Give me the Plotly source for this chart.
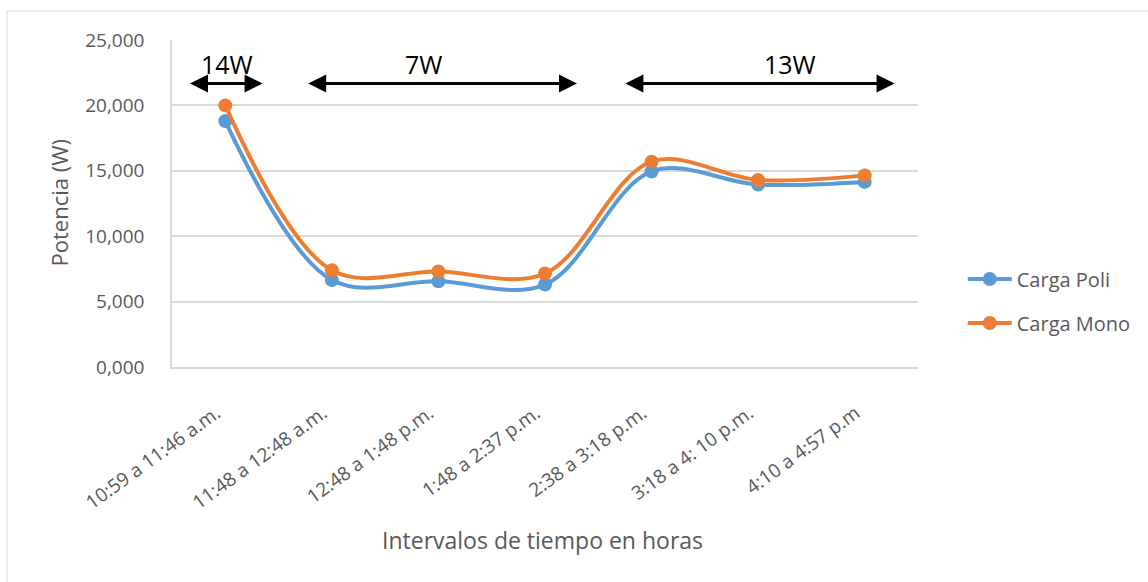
import plotly.graph_objects as go

# Time intervals (x categories)
intervalos = [
    "10:59 a 11:46 a.m.",
    "11:48 a 12:48 a.m.",
    "12:48 a 1:48 p.m.",
    "1:48 a 2:37 p.m.",
    "2:38 a 3:18 p.m.",
    "3:18 a 4: 10 p.m.",
    "4:10 a 4:57 p.m",
]

# Measured power per load type
carga_poli = [18.8, 6.65, 6.55, 6.3, 14.95, 13.95, 14.15]
carga_mono = [20.0, 7.4, 7.3, 7.15, 15.7, 14.3, 14.65]

# Panel power bands above the curves: label, arrow start/end, label position
bandas = [
    ("14W", -0.345, 0.35, 0.02),
    ("7W", 0.764, 3.30, 1.86),
    ("13W", 3.74, 6.28, 5.30),
]

FONT = "Open Sans"
GRAY = "#595959"
BLUE = "#5B9BD5"
ORANGE = "#ED7D31"

fig = go.Figure()
x_idx = list(range(len(intervalos)))

fig.add_trace(go.Scatter(
    x=x_idx, y=carga_poli, name="Carga Poli", mode="lines+markers",
    line=dict(color=BLUE, width=4, shape="spline", smoothing=1.0),
    marker=dict(color=BLUE, size=14), legendgroup="poli",
))
fig.add_trace(go.Scatter(
    x=x_idx, y=carga_mono, name="Carga Mono", mode="lines+markers",
    line=dict(color=ORANGE, width=4, shape="spline", smoothing=1.0),
    marker=dict(color=ORANGE, size=14), legendgroup="mono",
))

annotations = []
arrow_y = 21.67
for label, x0, x1, xl in bandas:
    annotations.append(dict(
        x=x1, y=arrow_y, ax=x0, ay=arrow_y, xref="x", yref="y",
        axref="x", ayref="y", text="", showarrow=True,
        arrowhead=2, arrowside="end+start", arrowsize=1.2,
        arrowwidth=3, arrowcolor="black", standoff=0, startstandoff=0,
    ))
    annotations.append(dict(
        x=xl, y=23.2, xref="x", yref="y", text=label,
        showarrow=False, font=dict(family=FONT, size=25, color="black"),
    ))

# Axis titles
annotations.append(dict(
    x=-0.1528, y=0.5, xref="paper", yref="paper", text="Potencia (W)",
    textangle=-90, showarrow=False, xanchor="center", yanchor="middle",
    font=dict(family=FONT, size=22, color=GRAY),
))
annotations.append(dict(
    x=0.497, y=-0.529, xref="paper", yref="paper",
    text="Intervalos de tiempo en horas", showarrow=False,
    xanchor="center", yanchor="middle",
    font=dict(family=FONT, size=23, color=GRAY),
))

fig.update_layout(
    width=1148, height=582,
    margin=dict(l=172, r=230, t=40, b=215),
    paper_bgcolor="white", plot_bgcolor="white",
    separators=",.",
    annotations=annotations,
    showlegend=True,
    legend=dict(
        x=1.06, y=0.202, xanchor="left", yanchor="middle",
        font=dict(family=FONT, size=20, color=GRAY),
        tracegroupgap=15, bgcolor="rgba(0,0,0,0)", itemwidth=44,
    ),
    shapes=[dict(
        type="rect", xref="paper", yref="paper",
        x0=-0.2212, x1=1.4, y0=-0.7, y1=1.0887,
        line=dict(color="#d9d9d9", width=1), fillcolor="rgba(0,0,0,0)",
        layer="below",
    )],
)

fig.update_xaxes(
    range=[-0.5, 6.5], tickmode="array", tickvals=x_idx, ticktext=intervalos,
    tickangle=-36, tickfont=dict(family=FONT, size=19, color=GRAY),
    showgrid=False, showline=True, linecolor="#d9d9d9", linewidth=1.5,
    ticks="", zeroline=False, ticklabelstandoff=26, ticklabelshift=-9,
)
fig.update_yaxes(
    range=[0, 25], dtick=5, tick0=0, tickformat=".3f",
    tickfont=dict(family=FONT, size=19, color=GRAY),
    showgrid=True, gridcolor="#d9d9d9", gridwidth=1.5,
    showline=True, linecolor="#d9d9d9", linewidth=1.5,
    ticks="", zeroline=False, ticklabelstandoff=22,
)

fig.write_html("out.html")
